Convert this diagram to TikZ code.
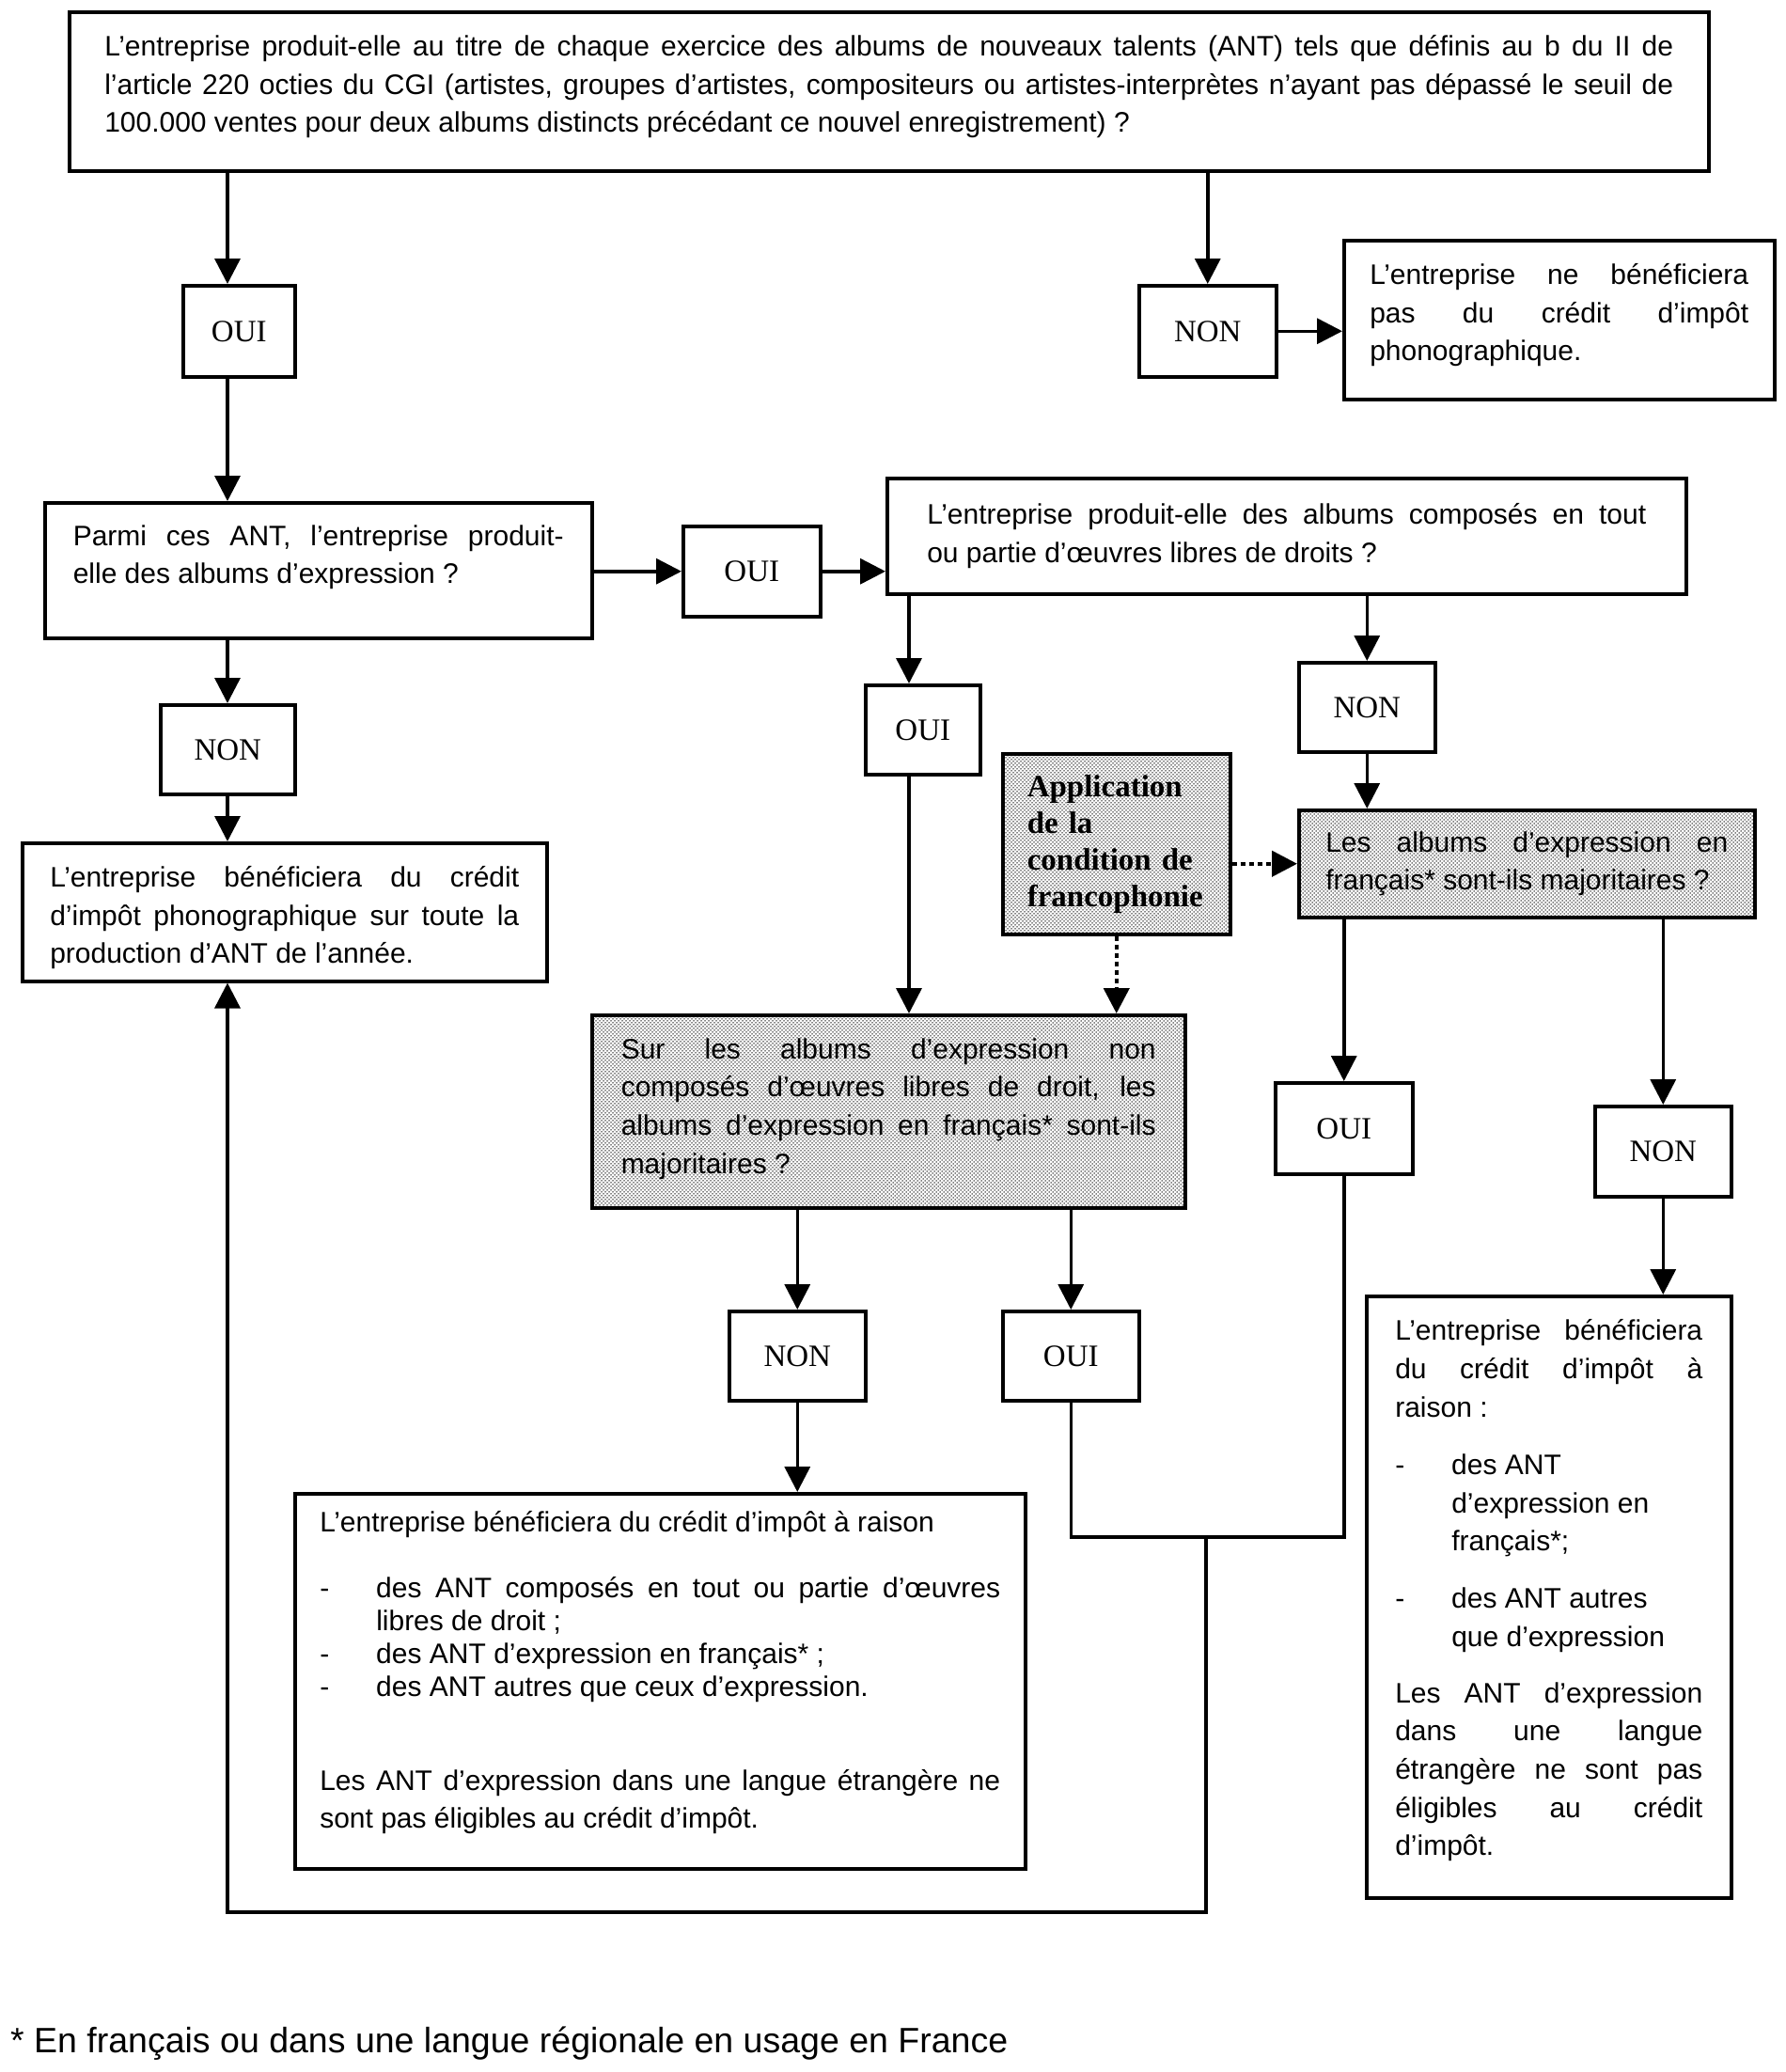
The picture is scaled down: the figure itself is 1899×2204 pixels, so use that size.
\documentclass[tikz,border=0pt]{standalone}
\usepackage{fontspec}
\setmainfont{Liberation Sans}
\newfontfamily\ouifont{Liberation Serif}
\usetikzlibrary{arrows.meta,patterns}
\pgfdeclarepatternformonly{francodots}{\pgfpoint{-1pt}{-1pt}}{\pgfpoint{5pt}{5pt}}{\pgfpoint{4pt}{4pt}}{%
  \pgfpathcircle{\pgfqpoint{0pt}{0pt}}{.75pt}%
  \pgfpathcircle{\pgfqpoint{2pt}{2pt}}{.75pt}%
  \pgfusepath{fill}}
\newcommand{\txt}{\fontsize{30pt}{40.6pt}\selectfont}
\newcommand{\tiret}{\hangindent=60pt\hangafter=1\noindent\makebox[60pt][l]{-}}
\newcommand{\creux}[1]{\rule[-#1]{0pt}{#1}}

\begin{document}
\begin{tikzpicture}[x=1pt, y=-1pt,
  box/.style={draw, line width=3.5pt, anchor=north west, inner sep=0pt, align=justify, font=\txt},
  rep/.style={draw, line width=3.5pt, anchor=north west, inner sep=0pt, font=\ouifont\fontsize{33pt}{36pt}\selectfont},
  gris/.style={box, pattern=francodots},
  arr/.style={-{Triangle[length=27pt,width=27pt]}, line width=3.5pt},
  lien/.style={line width=3.5pt},
  pointil/.style={arr, dash pattern=on 5pt off 4pt, line width=4.5pt}
]
\useasboundingbox (0,0) rectangle (1899,2204);

% questions et reponses
\node[box, minimum width=1744pt, minimum height=169pt, text width=1669pt] (q1) at (72,11) {L’entreprise produit-elle au titre de chaque exercice des albums de nouveaux talents (ANT) tels que définis au b du II de\linebreak l’article 220 octies du CGI (artistes, groupes d’artistes, compositeurs ou artistes-interprètes n’ayant pas dépassé le seuil de\linebreak 100.000 ventes pour deux albums distincts précédant ce nouvel enregistrement)~?\creux{16pt}};
\node[rep, minimum width=119pt, minimum height=97pt] (oui1) at (193,302) {OUI};
\node[rep, minimum width=146pt, minimum height=97pt] (non1) at (1210,302) {NON};
\node[box, minimum width=458pt, minimum height=169pt, text width=403pt] (exclu) at (1428,254) {L’entreprise ne bénéficiera\linebreak pas du crédit d’impôt\linebreak phonographique.\creux{16pt}};
\node[box, minimum width=582pt, minimum height=144pt, text width=522pt] (q2) at (46,533) {Parmi ces ANT, l’entreprise produit-\linebreak elle des albums d’expression~?\creux{34pt}};
\node[rep, minimum width=146pt, minimum height=96pt] (oui2) at (725,558) {OUI};
\node[box, minimum width=850pt, minimum height=123pt, text width=765pt] (q3) at (942,507) {L’entreprise produit-elle des albums composés en tout\linebreak ou partie d’œuvres libres de droits~?};
\node[rep, minimum width=143pt, minimum height=95pt] (non2) at (169,748) {NON};
\node[box, minimum width=558pt, minimum height=147pt, text width=499pt] (tout) at (22,895) {\rule{0pt}{34pt}L’entreprise bénéficiera du crédit\linebreak d’impôt phonographique sur toute la\linebreak production d’ANT de l’année.};
\node[rep, minimum width=122pt, minimum height=95pt] (oui3) at (919,727) {OUI};
\node[rep, minimum width=145pt, minimum height=95pt] (non3) at (1380,703) {NON};
\node[gris, minimum width=242pt, minimum height=192pt, text width=190pt, align=left, font=\ouifont\bfseries\fontsize{33pt}{39pt}\selectfont] (franco) at (1065,800) {Application\\ de la\\ condition de\\ francophonie};
\node[gris, minimum width=631pt, minimum height=205pt, text width=569pt] (q4) at (628,1078) {Sur les albums d’expression non\linebreak composés d’œuvres libres de droit, les\linebreak albums d’expression en français* sont-ils\linebreak majoritaires~?\creux{12pt}};
\node[gris, minimum width=485pt, minimum height=114pt, text width=428pt] (q5) at (1380,860) {Les albums d’expression en\linebreak français* sont-ils majoritaires~?};
\node[rep, minimum width=146pt, minimum height=97pt] (oui4) at (1355,1150) {OUI};
\node[rep, minimum width=145pt, minimum height=96pt] (non4) at (1695,1175) {NON};
\node[rep, minimum width=145pt, minimum height=95pt] (non5) at (774,1393) {NON};
\node[rep, minimum width=145pt, minimum height=95pt] (oui5) at (1065,1393) {OUI};

% conclusions
\node[box, minimum width=777pt, minimum height=399pt, text width=724pt] (partiel) at (312,1587) {L’entreprise bénéficiera du crédit d’impôt à raison\par
  \fontsize{30pt}{35pt}\selectfont\vspace{35pt}
  \tiret des ANT composés en tout ou partie d’œuvres\linebreak libres de droit~;\par
  \tiret des ANT d’expression en français*~;\par
  \tiret des ANT autres que ceux d’expression.\par
  \fontsize{30pt}{40.6pt}\selectfont\vspace{59pt}
  Les ANT d’expression dans une langue étrangère ne\linebreak sont pas éligibles au crédit d’impôt.\creux{24pt}};
\node[box, minimum width=388pt, minimum height=640pt, text width=327pt] (regional) at (1452,1377) {L’entreprise bénéficiera\linebreak du crédit d’impôt à\linebreak raison~:\par\vspace{21pt}
  \tiret des ANT\newline d’expression en\newline français*;\par\vspace{20pt}
  \tiret des ANT autres\newline que d’expression\par\vspace{19.5pt}
  Les ANT d’expression\linebreak dans une langue\linebreak étrangère ne sont pas\linebreak éligibles au crédit\linebreak d’impôt.\creux{20pt}};
\node[anchor=west, inner sep=0pt, font=\fontsize{37.5pt}{45pt}\selectfont] (note) at (11,2174) {* En français ou dans une langue régionale en usage en France};

% fleches
\coordinate (c1) at (242,0);
\coordinate (c3) at (967,0);
\coordinate (j) at (1283,1635);
\coordinate (bas) at (242,2034);
\draw[arr] (q1.south -| c1) -- (oui1.north -| c1);
\draw[arr] (oui1.south -| c1) -- (q2.north -| c1);
\draw[arr] (q2.south -| c1) -- (non2.north -| c1);
\draw[arr] (non2.south -| c1) -- (tout.north -| c1);
\draw[arr] (q1.south -| non1) -- (non1.north);
\draw[arr] (non1.east) -- (non1.east -| exclu.west);
\draw[arr] (q2.east |- oui2) -- (oui2.west);
\draw[arr] (oui2.east) -- (oui2.east -| q3.west);
\draw[arr] (q3.south -| c3) -- (oui3.north -| c3);
\draw[arr] (oui3.south -| c3) -- (q4.north -| c3);
\draw[arr] (q3.south -| non3) -- (non3.north);
\draw[arr] (non3.south) -- (non3.south |- q5.north);
\draw[pointil] (franco.east |- q5.west) -- (q5.west);
\draw[pointil] (franco.south) -- (franco.south |- q4.north);
\draw[arr] (q5.south -| oui4) -- (oui4.north);
\draw[arr] (q5.south -| non4) -- (non4.north);
\draw[arr] (non4.south) -- (non4.south |- regional.north);
\draw[arr] (q4.south -| non5) -- (non5.north);
\draw[arr] (q4.south -| oui5) -- (oui5.north);
\draw[arr] (non5.south) -- (non5.south |- partiel.north);
\draw[lien] (oui5.south) |- (j) -| (oui4.south);
\draw[arr] (j) |- (bas) -- (tout.south -| bas);
\end{tikzpicture}
\end{document}
